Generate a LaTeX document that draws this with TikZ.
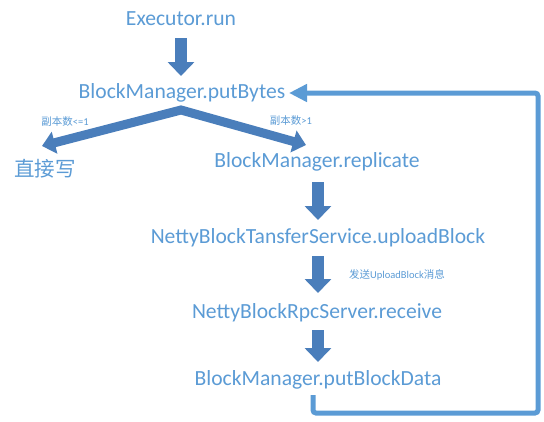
\documentclass[tikz,border=0pt]{standalone}
\usepackage{fontspec}
\setmainfont{Carlito}
\newfontfamily\cjk{Noto Sans CJK SC}
\usetikzlibrary{arrows.meta}
\definecolor{txtblue}{HTML}{5B9BD5}
\definecolor{arrblue}{HTML}{4A7EBB}
\definecolor{loopblue}{HTML}{5B9BD5}
\tikzset{
  lbl/.style={text=txtblue, font=\fontsize{21.6}{26}\selectfont, inner sep=0pt, anchor=center},
  small/.style={text=txtblue, font=\fontsize{10.5}{13}\selectfont, inner sep=0pt},
  downarrow/.style={draw=arrblue, line width=12pt, -{Triangle[width=26pt,length=14pt]}},
  splitarrow/.style={draw=arrblue, line width=9pt, line join=miter, {Triangle[width=22pt,length=13pt]}-{Triangle[width=22pt,length=13pt]}},
  looparrow/.style={draw=loopblue, line width=5pt, rounded corners=3pt, -{Triangle[width=17pt,length=18pt]}}
}
\begin{document}
\begin{tikzpicture}[x=1pt,y=-1pt]
\useasboundingbox (0,0) rectangle (544,421);
\node[lbl] (exec) at (181,19) {Executor.run};
\node[lbl] (put) at (182,93) {BlockManager.putBytes};
\node[lbl] (direct) at (45,169) {\cjk\fontsize{20.5}{24}\selectfont 直接写};
\node[lbl] (repl) at (317,162) {BlockManager.replicate};
\node[lbl] (upload) at (318,238) {NettyBlockTansferService.uploadBlock};
\node[lbl] (recv) at (317,313) {NettyBlockRpcServer.receive};
\node[lbl] (pbd) at (318,380) {BlockManager.putBlockData};
% labels
\node[small] (l1) at (65,122) {{\cjk 副本数}<=1};
\node[small] (l2) at (291,121) {{\cjk 副本数}>1};
\node[small] (l3) at (397,275) {{\cjk 发送}UploadBlock{\cjk 消息}};
% down arrows
\coordinate (a1s) at (181,38);
\coordinate (a1e) at (181,76);
\draw[downarrow] (a1s) -- (a1e);
\coordinate (a2s) at (318,182);
\coordinate (a2e) at (318,220);
\draw[downarrow] (a2s) -- (a2e);
\coordinate (a3s) at (318,256);
\coordinate (a3e) at (318,293);
\draw[downarrow] (a3s) -- (a3e);
\coordinate (a4s) at (318,330);
\coordinate (a4e) at (318,362);
\draw[downarrow] (a4s) -- (a4e);
% split arrow
\coordinate (apex) at (181,110);
\coordinate (ltip) at (42,146);
\coordinate (rtip) at (306,145);
\draw[splitarrow] (ltip) -- (apex) -- (rtip);
% loop
\coordinate (ls) at (313,395);
\coordinate (lend) at (289,93);
\draw[looparrow] (ls) -- (313,413) -- (538,413) -- (538,93) -- (lend);
\end{tikzpicture}
\end{document}
